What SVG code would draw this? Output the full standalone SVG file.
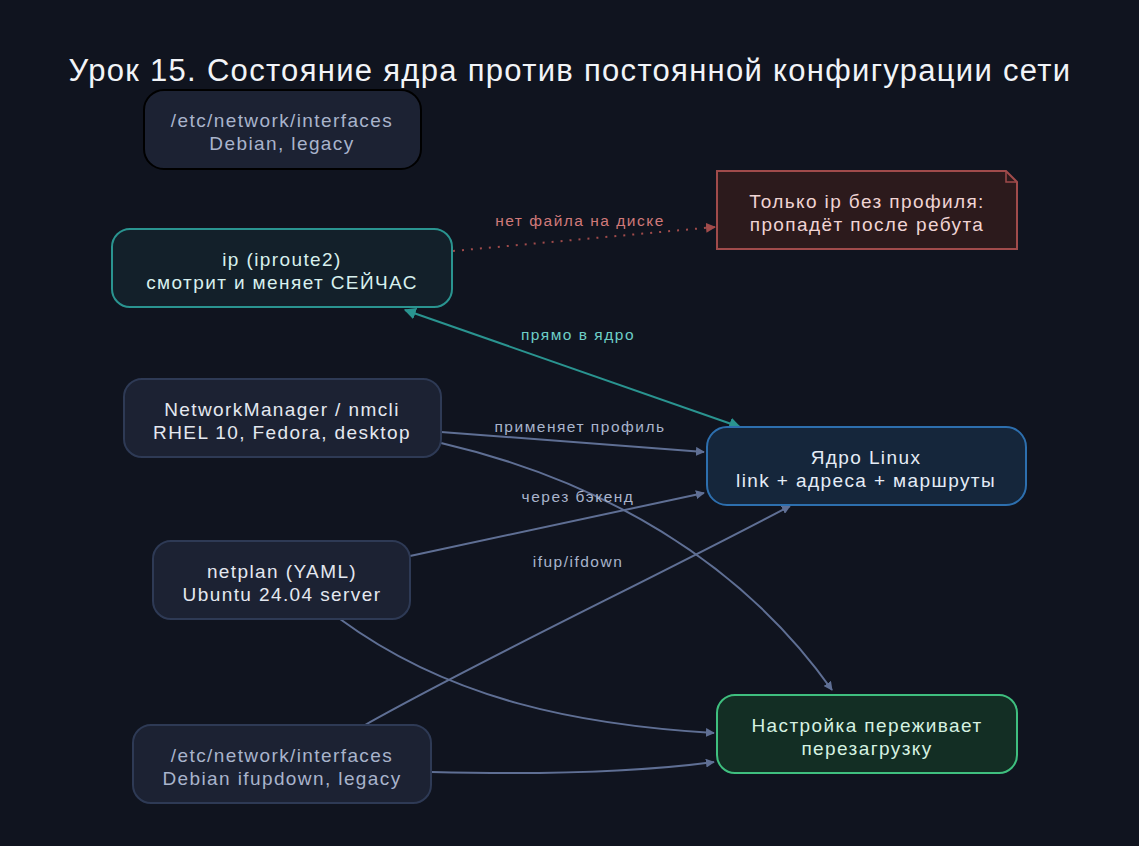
<svg xmlns="http://www.w3.org/2000/svg" width="1139" height="846" viewBox="0 0 1139 846">
<style>
text{font-family:"Liberation Sans",Arial,sans-serif;text-anchor:middle}
.t{font-size:19px;letter-spacing:1.4px}
.l{font-size:15.5px;letter-spacing:1.5px}
.e{fill:none;stroke:#5f6f94;stroke-width:2}
</style>
<defs>
<marker id="a" viewBox="0 0 10 10" refX="9" refY="5" markerWidth="9" markerHeight="9" markerUnits="userSpaceOnUse" orient="auto"><path d="M0,0L10,5L0,10z" fill="#5f6f94"/></marker>
<marker id="ar" viewBox="0 0 10 10" refX="9" refY="5" markerWidth="10" markerHeight="10" markerUnits="userSpaceOnUse" orient="auto"><path d="M0,0L10,5L0,10z" fill="#a04b4b"/></marker>
<marker id="at" viewBox="0 0 10 10" refX="9" refY="5" markerWidth="12" markerHeight="12" markerUnits="userSpaceOnUse" orient="auto-start-reverse"><path d="M0,0L10,5L0,10z" fill="#2a9490"/></marker>
</defs>
<rect width="1139" height="846" fill="#10141f"/>
<text x="570" y="81" style="font-size:31px;letter-spacing:1.3px" fill="#f2f4f8">Урок 15. Состояние ядра против постоянной конфигурации сети</text>
<g id="edges">
<path d="M453,251 L715,227" fill="none" stroke="#a04b4b" stroke-width="2" stroke-dasharray="2,7" marker-end="url(#ar)"/>
<text class="l" x="580" y="226" fill="#d07a7a">нет файла на диске</text>
<path d="M405,310 L740,427" fill="none" stroke="#2a9490" stroke-width="2" marker-start="url(#at)" marker-end="url(#at)"/>
<text class="l" x="578" y="340" fill="#6ecfc7">прямо в ядро</text>
<path class="e" d="M441,432 L704,452" marker-end="url(#a)"/>
<text class="l" x="580" y="432" fill="#a9b4cc">применяет профиль</text>
<path class="e" d="M441,443 C600,480 740,560 832,690" marker-end="url(#a)"/>
<path class="e" d="M410,556 L704,493" marker-end="url(#a)"/>
<text class="l" x="578" y="502" fill="#a9b4cc">через бэкенд</text>
<path class="e" d="M340,619 C450,700 580,725 714,733" marker-end="url(#a)"/>
<path class="e" d="M365,725 C480,660 650,580 790,506" marker-end="url(#a)"/>
<text class="l" x="578" y="567" fill="#a9b4cc">ifup/ifdown</text>
<path class="e" d="M431,772 C550,775 640,772 714,762" marker-end="url(#a)"/>
</g>
<g id="legacy"><rect x="144" y="90" width="277" height="79" rx="20" fill="#1c2233" stroke="#000" stroke-width="2"/>
<text class="t" x="282" y="127" fill="#a9b4cc">/etc/network/interfaces</text><text class="t" x="282" y="150" fill="#a9b4cc">Debian, legacy</text></g>
<g id="ip"><rect x="112" y="229" width="340" height="78" rx="18" fill="#13202a" stroke="#2a9490" stroke-width="2"/>
<text class="t" x="282" y="266" fill="#d8f0ee">ip (iproute2)</text><text class="t" x="282" y="289" fill="#d8f0ee">смотрит и меняет СЕЙЧАС</text></g>
<g id="note"><path d="M717,171 H1006 L1017,182 V249 H717 Z" fill="#2c1a1c" stroke="#a04b4b" stroke-width="2"/><path d="M1006,171 V182 H1017" fill="none" stroke="#a04b4b" stroke-width="1.5"/>
<text class="t" x="867" y="208" fill="#f0d4d4">Только ip без профиля:</text><text class="t" x="867" y="231" fill="#f0d4d4">пропадёт после ребута</text></g>
<g id="nm"><rect x="124" y="379" width="317" height="78" rx="18" fill="#1c2233" stroke="#2e3a55" stroke-width="2"/>
<text class="t" x="282" y="416" fill="#e4e8f0">NetworkManager / nmcli</text><text class="t" x="282" y="439" fill="#e4e8f0">RHEL 10, Fedora, desktop</text></g>
<g id="kernel"><rect x="707" y="427" width="319" height="78" rx="20" fill="#15263b" stroke="#2d6fae" stroke-width="2"/>
<text class="t" x="866" y="464" fill="#e4ecf6">Ядро Linux</text><text class="t" x="866" y="487" fill="#e4ecf6">link + адреса + маршруты</text></g>
<g id="netplan"><rect x="153" y="541" width="257" height="78" rx="18" fill="#1c2233" stroke="#2e3a55" stroke-width="2"/>
<text class="t" x="282" y="578" fill="#e4e8f0">netplan (YAML)</text><text class="t" x="282" y="601" fill="#e4e8f0">Ubuntu 24.04 server</text></g>
<g id="persist"><rect x="717" y="695" width="300" height="78" rx="18" fill="#132e24" stroke="#3fbf7f" stroke-width="2"/>
<text class="t" x="867" y="732" fill="#d6f2e2">Настройка переживает</text><text class="t" x="867" y="755" fill="#d6f2e2">перезагрузку</text></g>
<g id="iface"><rect x="133" y="725" width="298" height="78" rx="18" fill="#1c2233" stroke="#2e3a55" stroke-width="2"/>
<text class="t" x="282" y="762" fill="#a9b4cc">/etc/network/interfaces</text><text class="t" x="282" y="785" fill="#a9b4cc">Debian ifupdown, legacy</text></g>
</svg>
